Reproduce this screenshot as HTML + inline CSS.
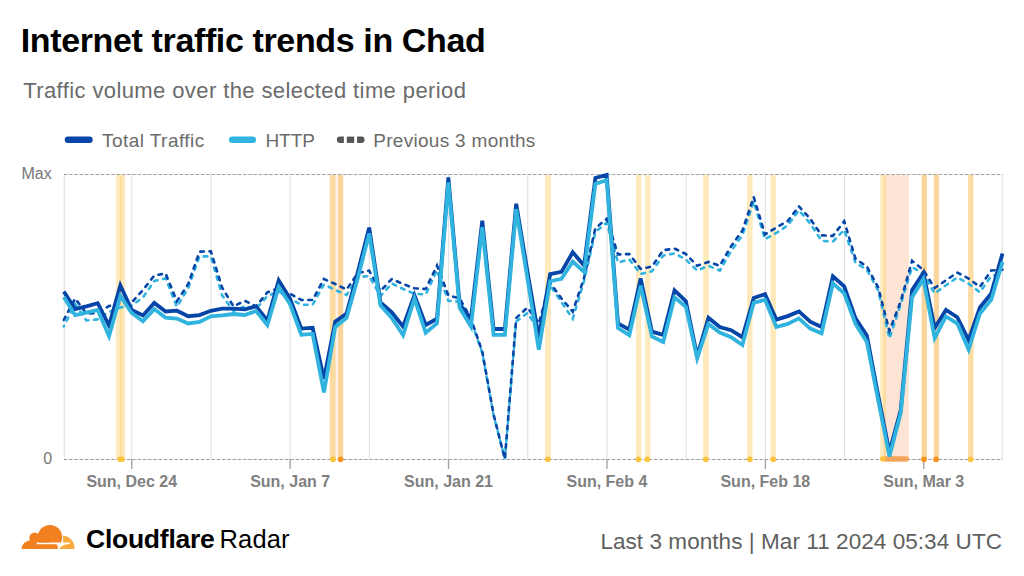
<!DOCTYPE html>
<html><head><meta charset="utf-8"><style>
html,body{margin:0;padding:0;background:#fff;}
#root{position:relative;width:1024px;height:576px;overflow:hidden;background:#fff;}
</style></head><body><div id="root">
<svg width="1024" height="576" viewBox="0 0 1024 576" style="position:absolute;left:0;top:0"><rect x="886" y="174.5" width="22.9" height="284.5" fill="#FEE4D5"/><rect x="880.1" y="174.5" width="3" height="284.5" fill="#FEEBC0"/><rect x="883.1" y="174.5" width="2.9" height="284.5" fill="#FCDCA0"/><line x1="64.30" y1="174.5" x2="64.30" y2="459" stroke="#E3E3E3" stroke-width="1.2"/><line x1="131.75" y1="174.5" x2="131.75" y2="459" stroke="#E3E3E3" stroke-width="1.2"/><line x1="210.95" y1="174.5" x2="210.95" y2="459" stroke="#E3E3E3" stroke-width="1.2"/><line x1="290.15" y1="174.5" x2="290.15" y2="459" stroke="#E3E3E3" stroke-width="1.2"/><line x1="369.35" y1="174.5" x2="369.35" y2="459" stroke="#E3E3E3" stroke-width="1.2"/><line x1="448.55" y1="174.5" x2="448.55" y2="459" stroke="#E3E3E3" stroke-width="1.2"/><line x1="527.75" y1="174.5" x2="527.75" y2="459" stroke="#E3E3E3" stroke-width="1.2"/><line x1="606.95" y1="174.5" x2="606.95" y2="459" stroke="#E3E3E3" stroke-width="1.2"/><line x1="686.15" y1="174.5" x2="686.15" y2="459" stroke="#E3E3E3" stroke-width="1.2"/><line x1="765.35" y1="174.5" x2="765.35" y2="459" stroke="#E3E3E3" stroke-width="1.2"/><line x1="844.55" y1="174.5" x2="844.55" y2="459" stroke="#E3E3E3" stroke-width="1.2"/><line x1="923.75" y1="174.5" x2="923.75" y2="459" stroke="#E3E3E3" stroke-width="1.2"/><line x1="1002.30" y1="174.5" x2="1002.30" y2="459" stroke="#E3E3E3" stroke-width="1.2"/><rect x="115.90" y="174.5" width="9.30" height="284.5" fill="#FEEAC0"/><rect x="119.80" y="174.5" width="2.10" height="284.5" fill="#FDDF96"/><rect x="329.80" y="174.5" width="6.00" height="284.5" fill="#FCDBA0"/><rect x="335.80" y="174.5" width="2.10" height="284.5" fill="#FFF4EC"/><rect x="337.90" y="174.5" width="5.30" height="284.5" fill="#FAD49A"/><rect x="545.00" y="174.5" width="6.00" height="284.5" fill="#FEEABD"/><rect x="636.00" y="174.5" width="5.40" height="284.5" fill="#FEEABD"/><rect x="645.00" y="174.5" width="5.40" height="284.5" fill="#FEEABD"/><rect x="703.10" y="174.5" width="5.60" height="284.5" fill="#FEEABD"/><rect x="747.00" y="174.5" width="5.60" height="284.5" fill="#FEEABD"/><rect x="770.40" y="174.5" width="5.60" height="284.5" fill="#FEEABD"/><rect x="921.60" y="174.5" width="5.40" height="284.5" fill="#FBD49C"/><rect x="933.80" y="174.5" width="5.20" height="284.5" fill="#FBD59D"/><rect x="968.10" y="174.5" width="5.40" height="284.5" fill="#FDDCA4"/><line x1="64" y1="174.5" x2="1002.5" y2="174.5" stroke="#EAEAEA" stroke-width="1"/><line x1="64" y1="174.5" x2="1002.5" y2="174.5" stroke="#A0A0A0" stroke-width="1" stroke-dasharray="3.1 2.17"/><line x1="64" y1="459.5" x2="1002.5" y2="459.5" stroke="#EAEAEA" stroke-width="1"/><line x1="64" y1="459.5" x2="1002.5" y2="459.5" stroke="#9A9A9A" stroke-width="1" stroke-dasharray="3.1 2.17"/><line x1="131.75" y1="459" x2="131.75" y2="469" stroke="#A5A5A5" stroke-width="1.4"/><line x1="290.15" y1="459" x2="290.15" y2="469" stroke="#A5A5A5" stroke-width="1.4"/><line x1="448.55" y1="459" x2="448.55" y2="469" stroke="#A5A5A5" stroke-width="1.4"/><line x1="606.95" y1="459" x2="606.95" y2="469" stroke="#A5A5A5" stroke-width="1.4"/><line x1="765.35" y1="459" x2="765.35" y2="469" stroke="#A5A5A5" stroke-width="1.4"/><line x1="923.75" y1="459" x2="923.75" y2="469" stroke="#A5A5A5" stroke-width="1.4"/><rect x="117.3" y="456.5" width="7.5" height="5.6" rx="2.8" fill="#FCC43E"/><circle cx="333.00" cy="459.3" r="2.9" fill="#FCC43E"/><circle cx="340.60" cy="459.3" r="2.9" fill="#F7931E"/><circle cx="547.80" cy="459.3" r="2.9" fill="#FCC43E"/><circle cx="638.40" cy="459.3" r="2.9" fill="#FCC43E"/><circle cx="647.30" cy="459.3" r="2.9" fill="#FCC43E"/><circle cx="705.90" cy="459.3" r="2.9" fill="#FCC43E"/><circle cx="749.80" cy="459.3" r="2.9" fill="#FCC43E"/><circle cx="773.20" cy="459.3" r="2.9" fill="#FCC43E"/><circle cx="924.00" cy="459.3" r="2.9" fill="#F7931E"/><circle cx="936.10" cy="459.3" r="2.9" fill="#F7931E"/><circle cx="970.60" cy="459.3" r="2.9" fill="#FCC43E"/><rect x="882.5" y="456.3" width="26.4" height="5.4" rx="2.7" fill="#F59A45" opacity="0.85"/><circle cx="882.8" cy="459" r="2.8" fill="#FCC43E"/><path d="M63.80,326.40 L75.11,304.00 L86.42,320.50 L97.73,319.40 L109.04,312.00 L120.35,307.50 L131.66,305.50 L142.97,297.40 L154.28,281.00 L165.59,278.30 L176.90,306.80 L188.21,288.00 L199.52,256.40 L210.83,256.40 L222.14,295.40 L233.45,311.00 L244.76,306.30 L256.07,308.70 L267.38,296.00 L278.69,291.50 L290.00,298.50 L301.31,304.75 L312.62,304.75 L323.93,284.40 L335.24,290.00 L346.55,295.00 L357.86,277.30 L369.17,276.00 L380.48,296.00 L391.79,283.50 L403.10,289.00 L414.41,293.75 L425.72,294.50 L437.03,270.30 L448.34,300.80 L459.65,301.60 L470.96,320.30 L482.27,353.00 L493.58,415.00 L504.89,459.00 L516.20,321.50 L527.51,313.00 L538.82,330.00 L550.13,285.00 L561.44,302.30 L572.75,318.75 L584.06,281.00 L595.37,232.00 L606.68,222.70 L617.99,262.50 L629.30,259.40 L640.61,273.90 L651.92,271.25 L663.23,255.60 L674.54,253.30 L685.85,259.50 L697.16,270.50 L708.47,265.80 L719.78,270.50 L731.09,251.00 L742.40,235.30 L753.71,201.50 L765.02,239.20 L776.33,233.00 L787.64,225.50 L798.95,210.30 L810.26,223.60 L821.57,240.80 L832.88,241.60 L844.19,229.80 L855.50,262.70 L866.81,269.70 L878.12,290.30 L889.43,338.50 L900.74,304.40 L912.05,267.20 L923.36,273.70 L934.67,293.50 L945.98,285.20 L957.29,277.50 L968.60,283.60 L979.91,292.30 L991.22,276.00 L1002.53,273.60" fill="none" stroke="#30B3DE" stroke-width="2.6" stroke-dasharray="3.6 5.7" stroke-linecap="round" stroke-dashoffset="3" stroke-linejoin="miter"/><path d="M63.80,320.00 L75.11,298.50 L86.42,313.50 L97.73,313.00 L109.04,306.00 L120.35,303.00 L131.66,302.60 L142.97,290.00 L154.28,275.50 L165.59,273.50 L176.90,301.30 L188.21,284.00 L199.52,251.70 L210.83,251.30 L222.14,287.60 L233.45,306.30 L244.76,300.80 L256.07,306.30 L267.38,292.25 L278.69,288.30 L290.00,293.80 L301.31,300.00 L312.62,300.00 L323.93,279.00 L335.24,284.00 L346.55,289.60 L357.86,273.00 L369.17,270.60 L380.48,291.00 L391.79,279.00 L403.10,284.00 L414.41,288.30 L425.72,289.00 L437.03,265.60 L448.34,295.30 L459.65,298.40 L470.96,318.75 L482.27,351.60 L493.58,414.60 L504.89,459.00 L516.20,318.00 L527.51,307.50 L538.82,323.40 L550.13,282.80 L561.44,298.40 L572.75,311.70 L584.06,278.00 L595.37,228.20 L606.68,218.80 L617.99,254.50 L629.30,254.00 L640.61,268.80 L651.92,266.60 L663.23,250.20 L674.54,248.60 L685.85,254.00 L697.16,265.80 L708.47,261.90 L719.78,265.80 L731.09,246.25 L742.40,230.60 L753.71,197.00 L765.02,234.50 L776.33,227.50 L787.64,221.20 L798.95,206.40 L810.26,218.90 L821.57,235.30 L832.88,236.00 L844.19,221.25 L855.50,258.75 L866.81,266.60 L878.12,287.20 L889.43,331.00 L900.74,301.25 L912.05,260.80 L923.36,270.00 L934.67,288.00 L945.98,280.30 L957.29,272.50 L968.60,278.60 L979.91,286.90 L991.22,270.50 L1002.53,269.70" fill="none" stroke="#0545A7" stroke-width="2.6" stroke-dasharray="3.6 5.7" stroke-linecap="round" stroke-linejoin="miter"/><path d="M63.80,291.60 L75.11,309.10 L86.42,306.30 L97.73,303.20 L109.04,325.50 L120.35,285.50 L131.66,309.90 L142.97,315.40 L154.28,302.90 L165.59,311.50 L176.90,310.70 L188.21,316.20 L199.52,315.10 L210.83,310.80 L222.14,308.70 L233.45,308.70 L244.76,309.40 L256.07,306.30 L267.38,320.40 L278.69,280.50 L290.00,298.50 L301.31,328.60 L312.62,327.80 L323.93,379.00 L335.24,321.70 L346.55,313.50 L357.86,272.00 L369.17,227.60 L380.48,302.50 L391.79,312.30 L403.10,326.60 L414.41,295.30 L425.72,325.00 L437.03,318.75 L448.34,177.50 L459.65,304.70 L470.96,318.75 L482.27,220.80 L493.58,329.00 L504.89,329.00 L516.20,203.70 L527.51,272.00 L538.82,338.00 L550.13,274.20 L561.44,271.90 L572.75,252.30 L584.06,265.60 L595.37,178.00 L606.68,175.00 L617.99,323.40 L629.30,329.70 L640.61,278.30 L651.92,331.70 L663.23,334.80 L674.54,290.30 L685.85,301.25 L697.16,356.00 L708.47,317.70 L719.78,327.00 L731.09,330.20 L742.40,337.20 L753.71,298.00 L765.02,294.20 L776.33,319.60 L787.64,316.10 L798.95,311.40 L810.26,321.60 L821.57,327.00 L832.88,276.25 L844.19,286.40 L855.50,318.40 L866.81,335.60 L878.12,395.00 L889.43,452.00 L900.74,410.00 L912.05,290.20 L923.36,273.00 L934.67,328.00 L945.98,310.00 L957.29,317.20 L968.60,340.00 L979.91,307.50 L991.22,293.50 L1002.53,253.40" fill="none" stroke="#0545A7" stroke-width="3.8" stroke-linejoin="miter" stroke-miterlimit="4"/><path d="M63.80,297.00 L75.11,315.00 L86.42,312.60 L97.73,310.00 L109.04,336.00 L120.35,296.00 L131.66,313.00 L142.97,321.30 L154.28,309.10 L165.59,317.70 L176.90,318.50 L188.21,323.50 L199.52,322.00 L210.83,316.30 L222.14,315.40 L233.45,314.00 L244.76,315.00 L256.07,311.00 L267.38,325.00 L278.69,287.00 L290.00,304.00 L301.31,334.70 L312.62,333.90 L323.93,392.50 L335.24,326.90 L346.55,318.00 L357.86,278.00 L369.17,233.40 L380.48,305.50 L391.79,318.00 L403.10,335.20 L414.41,298.40 L425.72,332.80 L437.03,323.40 L448.34,182.50 L459.65,307.80 L470.96,326.60 L482.27,227.10 L493.58,334.80 L504.89,334.80 L516.20,209.10 L527.51,279.00 L538.82,349.70 L550.13,281.25 L561.44,278.90 L572.75,261.70 L584.06,271.90 L595.37,184.00 L606.68,180.00 L617.99,328.00 L629.30,335.20 L640.61,285.60 L651.92,336.40 L663.23,341.90 L674.54,297.30 L685.85,306.70 L697.16,358.30 L708.47,323.90 L719.78,332.50 L731.09,337.20 L742.40,345.00 L753.71,302.80 L765.02,299.70 L776.33,327.00 L787.64,323.90 L798.95,318.40 L810.26,328.60 L821.57,333.30 L832.88,283.30 L844.19,293.40 L855.50,323.90 L866.81,341.90 L878.12,400.00 L889.43,456.50 L900.74,413.00 L912.05,297.20 L923.36,279.00 L934.67,338.00 L945.98,316.40 L957.29,323.60 L968.60,349.60 L979.91,313.50 L991.22,299.80 L1002.53,261.70" fill="none" stroke="#30B3DE" stroke-width="3.8" stroke-linejoin="miter" stroke-miterlimit="4"/><rect x="64.7" y="136.5" width="28" height="6.6" rx="3.3" fill="#0545A7"/><rect x="228.9" y="136.5" width="27.2" height="6.6" rx="3.3" fill="#30B3DE"/><path d="M343.9,136.6 H340 A3.15,3.15 0 0 0 340,142.9 H343.9 Z" fill="#555"/><rect x="346.8" y="136.6" width="7.4" height="6.3" fill="#555"/><path d="M357.1,136.6 H361.4 A3.15,3.15 0 0 1 361.4,142.9 H357.1 Z" fill="#555"/><defs><clipPath id="cu"><rect x="0" y="500" width="100" height="42.6"/></clipPath><clipPath id="cb"><rect x="0" y="500" width="100" height="49.1"/></clipPath></defs>
<g fill="#F38020"><g clip-path="url(#cu)"><circle cx="49.9" cy="537.3" r="12.3"/><circle cx="34.6" cy="537.9" r="5.3"/><rect x="34" y="535" width="16" height="8"/></g>
<g clip-path="url(#cb)"><circle cx="30.3" cy="549.2" r="8.8"/><rect x="29" y="540.5" width="6.6" height="9"/><path d="M29,544.3 H55.5 A2.3,2.3 0 0 1 57.8,546.6 V549.1 H29 Z"/></g></g>
<path d="M63.1,535.7 A11.3,13.4 0 0 1 74.6,549.1 L59,549.1 C60.5,546.3 63.5,544.3 69.6,543.9 L69.6,542.6 L63.1,542.6 Z" fill="#F9AB40"/></svg>
<div style="position:absolute;left:20.80px;top:23.42px;font-family:'Liberation Sans',sans-serif;font-size:34px;line-height:34px;font-weight:bold;color:#000;letter-spacing:-0.37px;white-space:nowrap;">Internet traffic trends in Chad</div><div style="position:absolute;left:23.20px;top:79.88px;font-family:'Liberation Sans',sans-serif;font-size:22px;line-height:22px;font-weight:normal;color:#6B6B6B;letter-spacing:0.4px;white-space:nowrap;">Traffic volume over the selected time period</div><div style="position:absolute;left:102.00px;top:130.52px;font-family:'Liberation Sans',sans-serif;font-size:19px;line-height:19px;font-weight:normal;color:#6B6B6B;letter-spacing:0.45px;white-space:nowrap;">Total Traffic</div><div style="position:absolute;left:265.40px;top:130.52px;font-family:'Liberation Sans',sans-serif;font-size:19px;line-height:19px;font-weight:normal;color:#6B6B6B;letter-spacing:0.0px;white-space:nowrap;">HTTP</div><div style="position:absolute;left:373.20px;top:130.52px;font-family:'Liberation Sans',sans-serif;font-size:19px;line-height:19px;font-weight:normal;color:#6B6B6B;letter-spacing:0.3px;white-space:nowrap;">Previous 3 months</div><div style="position:absolute;left:21.50px;top:166.26px;font-family:'Liberation Sans',sans-serif;font-size:16px;line-height:16px;font-weight:normal;color:#777;letter-spacing:0px;white-space:nowrap;">Max</div><div style="position:absolute;left:43.30px;top:450.76px;font-family:'Liberation Sans',sans-serif;font-size:16px;line-height:16px;font-weight:normal;color:#777;letter-spacing:0px;white-space:nowrap;">0</div><div style="position:absolute;left:-168.25px;width:600px;text-align:center;top:474.46px;font-family:'Liberation Sans',sans-serif;font-size:16px;line-height:16px;font-weight:bold;color:#808080;letter-spacing:0px;white-space:nowrap;">Sun, Dec 24</div><div style="position:absolute;left:-9.85px;width:600px;text-align:center;top:474.46px;font-family:'Liberation Sans',sans-serif;font-size:16px;line-height:16px;font-weight:bold;color:#808080;letter-spacing:0px;white-space:nowrap;">Sun, Jan 7</div><div style="position:absolute;left:148.55px;width:600px;text-align:center;top:474.46px;font-family:'Liberation Sans',sans-serif;font-size:16px;line-height:16px;font-weight:bold;color:#808080;letter-spacing:0px;white-space:nowrap;">Sun, Jan 21</div><div style="position:absolute;left:306.95px;width:600px;text-align:center;top:474.46px;font-family:'Liberation Sans',sans-serif;font-size:16px;line-height:16px;font-weight:bold;color:#808080;letter-spacing:0px;white-space:nowrap;">Sun, Feb 4</div><div style="position:absolute;left:465.35px;width:600px;text-align:center;top:474.46px;font-family:'Liberation Sans',sans-serif;font-size:16px;line-height:16px;font-weight:bold;color:#808080;letter-spacing:0px;white-space:nowrap;">Sun, Feb 18</div><div style="position:absolute;left:623.75px;width:600px;text-align:center;top:474.46px;font-family:'Liberation Sans',sans-serif;font-size:16px;line-height:16px;font-weight:bold;color:#808080;letter-spacing:0px;white-space:nowrap;">Sun, Mar 3</div><div style="position:absolute;left:86.00px;top:525.87px;font-family:'Liberation Sans',sans-serif;font-size:26.5px;line-height:26.5px;font-weight:bold;color:#000;letter-spacing:-0.25px;white-space:nowrap;">Cloudflare</div><div style="position:absolute;left:219.60px;top:526.71px;font-family:'Liberation Sans',sans-serif;font-size:25.5px;line-height:25.5px;font-weight:normal;color:#000;letter-spacing:0.1px;white-space:nowrap;">Radar</div><div style="position:absolute;right:22.00px;top:530.65px;font-family:'Liberation Sans',sans-serif;font-size:22.5px;line-height:22.5px;font-weight:normal;color:#606060;letter-spacing:0.06px;white-space:nowrap;">Last 3 months | Mar 11 2024 05:34 UTC</div>
</div></body></html>
